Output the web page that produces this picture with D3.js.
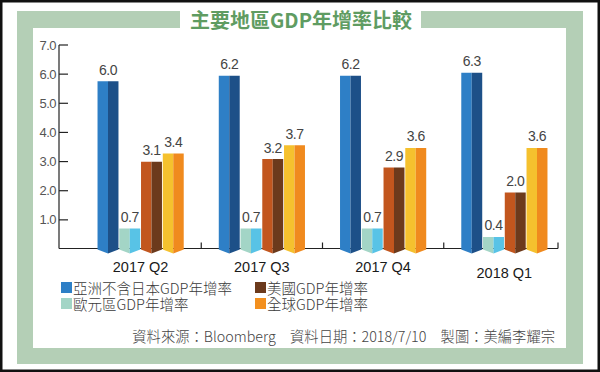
<!DOCTYPE html>
<html><head><meta charset="utf-8">
<script src="https://cdn.jsdelivr.net/npm/d3@7"></script>
<style>html,body{margin:0;padding:0;background:#fff;}svg{display:block;}</style>
</head><body>
<script>
// ---- data ----
const title = "主要地區GDP年增率比較";
const categories = ["2017 Q2", "2017 Q3", "2017 Q4", "2018 Q1"];
const seriesNames = ["亞洲不含日本GDP年增率", "歐元區GDP年增率", "美國GDP年增率", "全球GDP年增率"];
const asiaExJapan = [6.0, 6.2, 6.2, 6.3];
const eurozone = [0.7, 0.7, 0.7, 0.4];
const usa = [3.1, 3.2, 2.9, 2.0];
const world = [3.4, 3.7, 3.6, 3.6];
const yTickValues = [1, 2, 3, 4, 5, 6, 7];
const legendOrder = ["亞洲不含日本GDP年增率", "美國GDP年增率", "歐元區GDP年增率", "全球GDP年增率"];
const footer = "資料來源：Bloomberg　資料日期：2018/7/10　製圖：美編李耀宗";

// ---- styles ----
const colors = {
  "亞洲不含日本GDP年增率": {light: "#2e7fc6", dark: "#1d5088", key: "#2e7fc6"},
  "歐元區GDP年增率": {light: "#a3d5c6", dark: "#58c3e6", key: "#a3d5c6"},
  "美國GDP年增率": {light: "#c2561e", dark: "#6c3a1c", key: "#6c3a1c"},
  "全球GDP年增率": {light: "#f5c12e", dark: "#f08a1e", key: "#f3901f"}
};
const seriesValues = [asiaExJapan, eurozone, usa, world];
const green = "#b4cfb6";
const W = 600, H = 372;
const cjk = "'Noto Sans CJK TC','Noto Sans CJK SC',sans-serif";
const latin = "'Liberation Sans',Arial,sans-serif";

const svg = d3.select("body").append("svg").attr("width", W).attr("height", H);

// frame
svg.append("rect").attr("x", 1.25).attr("y", 1.25).attr("width", W - 2.5).attr("height", H - 2.5)
  .attr("fill", "#fff").attr("stroke", "#111").attr("stroke-width", 2.5);
svg.append("rect").attr("x", 17).attr("y", 11).attr("width", 566).attr("height", 353).attr("fill", green);
svg.append("rect").attr("x", 33).attr("y", 28).attr("width", 533).attr("height", 320).attr("fill", "#fff");
svg.append("rect").attr("x", 180).attr("y", 8).attr("width", 241).attr("height", 22).attr("fill", "#fff");
svg.append("text").attr("x", 301).attr("y", 19).attr("text-anchor", "middle").attr("dominant-baseline", "central")
  .attr("font-family", cjk).attr("font-weight", 700).attr("font-size", 20).attr("fill", "#5f9c62").text(title);

// scales
const axisX = 59, axisEnd = 558, baseY = 248.5;
const yAxisScale = d3.scaleLinear().domain([0, 7]).range([249, 45]);
const yBar = d3.scaleLinear().domain([0, 7]).range([248, 248 - 7 * 27.8]);
const x0 = d3.scaleBand().domain(categories).range([80, 565]).paddingInner(0.2825).paddingOuter(0.14125);
const x1 = d3.scaleBand().domain(seriesNames).range([0, x0.bandwidth()]);

// y axis
const gy = svg.append("g");
gy.append("line").attr("x1", axisX).attr("x2", axisX).attr("y1", yAxisScale(7)).attr("y2", baseY)
  .attr("stroke", "#222").attr("stroke-width", 1.2);
gy.selectAll(".tk").data(yTickValues).join("line")
  .attr("x1", axisX).attr("x2", axisX + 9).attr("y1", d => yAxisScale(d)).attr("y2", d => yAxisScale(d))
  .attr("stroke", "#222").attr("stroke-width", 1.2);
gy.selectAll(".tl").data(yTickValues).join("text")
  .attr("x", axisX - 3).attr("y", d => yAxisScale(d)).attr("text-anchor", "end").attr("dominant-baseline", "central")
  .attr("font-family", latin).attr("font-size", 13).attr("fill", "#555").attr("letter-spacing", -0.5)
  .text(d => d3.format(".1f")(d));

// x axis baseline and ticks
svg.append("line").attr("x1", axisX).attr("x2", axisEnd).attr("y1", baseY).attr("y2", baseY)
  .attr("stroke", "#222").attr("stroke-width", 1.2);
const sepTicks = categories.slice(1).map(c => x0(c) - x0.step() * x0.paddingOuter());
sepTicks.push(axisEnd);
svg.selectAll(".xt").data(sepTicks).join("line")
  .attr("x1", d => d).attr("x2", d => d).attr("y1", baseY).attr("y2", baseY - 6)
  .attr("stroke", "#222").attr("stroke-width", 1.2);

// bars
const barData = [];
categories.forEach((c, i) => seriesNames.forEach((s, j) => barData.push({c, s, v: seriesValues[j][i]})));
const bw = x1.bandwidth();
const gb = svg.append("g");
barData.forEach(d => {
  const x = x0(d.c) + x1(d.s) + 0.4, w = bw - 0.8, top = yBar(d.v), b = 248;
  const m = x + w / 2;
  gb.append("polygon").attr("points", [[x, top], [m, top], [m, b + 5.5], [x, b + 1.5]].map(p => p.join(",")).join(" "))
    .attr("fill", colors[d.s].light);
  gb.append("polygon").attr("points", [[m, top], [x + w, top], [x + w, b + 1.5], [m, b + 5.5]].map(p => p.join(",")).join(" "))
    .attr("fill", colors[d.s].dark);
  gb.append("text").attr("x", m).attr("y", top - 6.5).attr("text-anchor", "middle")
    .attr("font-family", latin).attr("font-size", 14).attr("fill", "#444").attr("letter-spacing", -0.5)
    .text(d3.format(".1f")(d.v));
});

// category labels
svg.selectAll(".cl").data(categories).join("text")
  .attr("x", d => x0(d) + x0.bandwidth() / 2).attr("y", (d, i) => i === categories.length - 1 ? 278 : 272)
  .attr("text-anchor", "middle").attr("font-family", latin).attr("font-size", 14.5).attr("fill", "#1a1a1a")
  .text(d => d);

// legend
const lg = svg.append("g");
legendOrder.forEach((s, i) => {
  const col = i % 2, row = Math.floor(i / 2);
  const lx = 61 + col * 194, ly = 287.5 + row * 16;
  lg.append("rect").attr("x", lx).attr("y", ly - 5.5).attr("width", 11).attr("height", 11).attr("fill", colors[s].key);
  lg.append("text").attr("x", lx + 12).attr("y", ly).attr("dominant-baseline", "central")
    .attr("font-family", cjk).attr("font-weight", 300).attr("font-size", 14.5).attr("fill", "#3a3a3a").text(s);
});

// footer
svg.append("text").attr("x", 555).attr("y", 335).attr("text-anchor", "end").attr("dominant-baseline", "central")
  .attr("font-family", cjk).attr("font-weight", 300).attr("font-size", 14.3).attr("fill", "#444").text(footer);
</script>
</body></html>
